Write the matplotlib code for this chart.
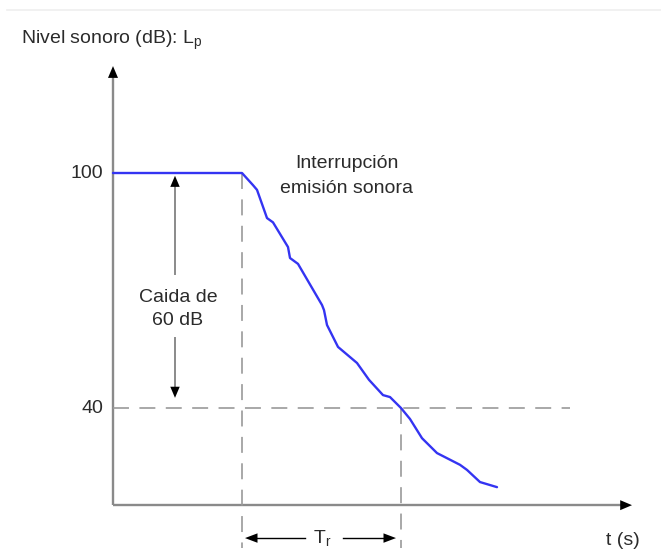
import matplotlib
matplotlib.use("Agg")
import matplotlib.pyplot as plt

plt.rcParams["font.family"] = ["Liberation Sans", "DejaVu Sans"]
plt.rcParams["mathtext.default"] = "regular"
plt.rcParams["lines.scale_dashes"] = False

# Sound level decay after the source is switched off
time_s = [0, 1.29, 1.40, 1.44, 1.54, 1.60, 1.75, 1.77, 1.85, 2.09, 2.11, 2.14,
          2.25, 2.44, 2.56, 2.70, 2.77, 2.88, 2.97, 3.09, 3.24, 3.47, 3.54,
          3.67, 3.84]
level_db = [100, 100, 96.9, 95.7, 88.5, 87.4, 81.1, 78.3, 76.8, 66.3, 65.0,
            61.2, 55.6, 51.5, 47.2, 43.3, 42.8, 40.0, 37.2, 32.3, 28.5, 25.5,
            24.2, 21.1, 19.8]

level_start = 100
level_end = 40
t_interrupt = 1.29
t_reverb_end = 2.88
level_ticks = [100, 40]
level_tick_labels = ["100", "40"]

TEXT = "#2b2b2b"
AXIS = "#8a8a8a"
DASH = "#9a9a9a"
BLUE = "#3434f2"

fig = plt.figure(figsize=(6.61, 5.60), dpi=100)
ax = fig.add_axes([0, 0, 1, 1])
ax.set_xlim(-1.13, 5.48)
ax.set_ylim(1.20, 144.17)
ax.axis("off")

x_axis_level = 15.2
y_axis_top = 127.3
x_axis_end = 5.19


def arrow_head(tip, tail, length=8.5, width=3.6, ax=ax):
    ax.annotate("", xy=tip, xytext=tail,
                arrowprops=dict(arrowstyle=f"-|>,head_length={length},head_width={width}",
                                mutation_scale=1, color="black", lw=0,
                                shrinkA=0, shrinkB=0))


# faint rule across the top
ax.plot([-1.06, 5.48], [141.6, 141.6], color="#efefef", lw=1.2)

# axes drawn as arrows
ax.plot([0, 0], [x_axis_level, y_axis_top - 2], color=AXIS, lw=1.7,
        solid_capstyle="butt")
arrow_head((0, y_axis_top), (0, y_axis_top - 3.5))
ax.plot([0, x_axis_end - 0.08], [x_axis_level, x_axis_level], color=AXIS,
        lw=1.7, solid_capstyle="butt")
arrow_head((x_axis_end, x_axis_level), (x_axis_end - 0.14, x_axis_level))

# reference dashed lines
dash = dict(color=DASH, lw=1.2, dashes=(11.5, 7.5))
ax.plot([0, 4.57], [level_end, level_end], **dash)
ax.plot([t_interrupt, t_interrupt], [level_start, 4.26], **dash)
ax.plot([t_reverb_end, t_reverb_end], [level_end, 4.26], **dash)

# decay curve
ax.plot(time_s, level_db, color=BLUE, lw=1.7, solid_joinstyle="round",
        solid_capstyle="round")

# level tick labels
for v, lab in zip(level_ticks, level_tick_labels):
    ax.text(-0.10, v, lab, ha="right", va="center", fontsize=14, color=TEXT)

ax.text(-0.92, 133.9, "Nivel sonoro (dB): L$_{p}$", ha="left", va="center",
        fontsize=14, color=TEXT)

ax.text(2.34, 101.3, "Interrupción", ha="center", va="baseline",
        fontsize=14, color=TEXT)
ax.text(2.34, 94.9, "emisión sonora", ha="center", va="baseline",
        fontsize=14, color=TEXT)

# 60 dB drop indicator
x_drop = 0.62
ax.plot([x_drop, x_drop], [97.0, 74.3], color=AXIS, lw=1.4)
arrow_head((x_drop, 99.3), (x_drop, 96.5), length=8, width=3.4)
ax.plot([x_drop, x_drop], [57.8, 45.0], color=AXIS, lw=1.4)
arrow_head((x_drop, 42.6), (x_drop, 45.4), length=8, width=3.4)
ax.text(0.65, 67.1, "Caida de", ha="center", va="baseline", fontsize=14,
        color=TEXT)
ax.text(0.65, 61.2, "60 dB", ha="center", va="baseline", fontsize=14,
        color=TEXT)

# reverberation time span
y_tr = 6.8
ax.plot([t_interrupt + 0.12, 1.92], [y_tr, y_tr], color="black", lw=1.0)
arrow_head((t_interrupt + 0.03, y_tr), (t_interrupt + 0.15, y_tr),
           length=9, width=3.4)
ax.plot([2.30, t_reverb_end - 0.15], [y_tr, y_tr], color="black", lw=1.0)
arrow_head((t_reverb_end - 0.05, y_tr), (t_reverb_end - 0.17, y_tr),
           length=9, width=3.4)
ax.text(2.09, 5.5, "T$_{r}$", ha="center", va="baseline", fontsize=14,
        color=TEXT)

ax.text(5.10, 5.0, "t (s)", ha="center", va="baseline", fontsize=14,
        color=TEXT)

fig.savefig("out.png", dpi=100, facecolor="white")
